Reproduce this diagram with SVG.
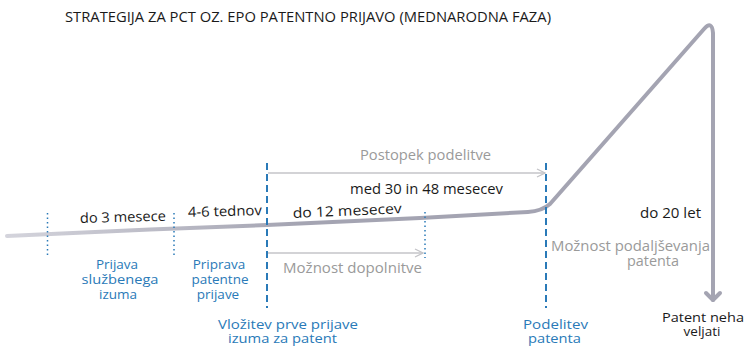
<svg xmlns="http://www.w3.org/2000/svg" width="747" height="347" viewBox="0 0 747 347">
<defs>
<style>
text{font-family:"Open Sans","Noto Sans","Liberation Sans",sans-serif;font-size:14px}
.k{fill:#1a1a1a}
.b{fill:#2a7ab8;text-anchor:middle;font-size:13.5px}
.g{fill:#9a9a9a}
.blk{fill:#1a1a1a;text-anchor:middle;font-size:13.5px}
.dash{stroke:#2a7ab8;stroke-width:2;stroke-dasharray:7 4;fill:none}
.dot{stroke:#2a7ab8;stroke-width:1.5;stroke-dasharray:1.5 3;fill:none}
.ga{stroke:#c4c4c8;stroke-width:1.3;fill:none}
</style>
<linearGradient id="lg" x1="7" y1="0" x2="300" y2="0" gradientUnits="userSpaceOnUse">
<stop offset="0" stop-color="#d4d4dc"/>
<stop offset="1" stop-color="#a4a4b2"/>
</linearGradient>
<marker id="oa" viewBox="0 0 10 10" refX="9" refY="5" markerWidth="10" markerHeight="10" markerUnits="userSpaceOnUse" orient="auto">
<path d="M1,1 L9,5 L1,9" fill="none" stroke="#c4c4c8" stroke-width="1.3"/>
</marker>
</defs>
<text x="65" y="22" class="k" textLength="486" lengthAdjust="spacingAndGlyphs">STRATEGIJA ZA PCT OZ. EPO PATENTNO PRIJAVO (MEDNARODNA FAZA)</text>
<g id="connectors">
<path id="timeline" d="M7,236 L150,229.5 L267,225 L420,218 L528,212 Q542,211 550,204 L704,29 Q712,20 713,33 L713,300" fill="none" stroke="url(#lg)" stroke-width="4" stroke-linejoin="round" stroke-linecap="round"/>
<path d="M706,293 L713,300 L720,293" fill="none" stroke="#a4a4b2" stroke-width="4" stroke-linecap="round" stroke-linejoin="round"/>
<line class="ga" x1="268" y1="173" x2="545" y2="173" marker-end="url(#oa)"/>
<line class="ga" x1="268" y1="253" x2="423" y2="253" marker-end="url(#oa)"/>
<line class="dash" x1="267" y1="163" x2="267" y2="308"/>
<line class="dash" x1="546" y1="163" x2="546" y2="308"/>
<line class="dot" x1="47.5" y1="213" x2="47.5" y2="258"/>
<line class="dot" x1="174" y1="213" x2="174" y2="258"/>
<line class="dot" x1="425" y1="212" x2="425" y2="258"/>
</g>
<g id="label-do3"><text class="k" x="80" y="223" transform="rotate(-1.5 80 223)" textLength="86" lengthAdjust="spacingAndGlyphs">do 3 mesece</text></g>
<g id="label-46"><text class="k" x="188" y="217" transform="rotate(-1.5 188 217)" textLength="74" lengthAdjust="spacingAndGlyphs">4-6 tednov</text></g>
<g id="label-do12"><text class="k" x="293" y="218" transform="rotate(-2.5 293 218)" textLength="109" lengthAdjust="spacingAndGlyphs">do 12 mesecev</text></g>
<g id="label-postopek"><text class="g" x="360" y="160" textLength="131" lengthAdjust="spacingAndGlyphs">Postopek podelitve</text></g>
<g id="label-med"><text class="k" x="350" y="194" textLength="153" lengthAdjust="spacingAndGlyphs">med 30 in 48 mesecev</text></g>
<g id="label-dopolnitve"><text class="g" x="283" y="273" textLength="139" lengthAdjust="spacingAndGlyphs">Možnost dopolnitve</text></g>
<g id="label-do20"><text class="k" x="640" y="218" textLength="61" lengthAdjust="spacingAndGlyphs">do 20 let</text></g>
<g id="label-podaljsevanja">
<text class="g" x="551" y="251" textLength="159" lengthAdjust="spacingAndGlyphs">Možnost podaljševanja</text>
<text class="g" x="627" y="266" textLength="52" lengthAdjust="spacingAndGlyphs">patenta</text>
</g>
<g id="node-prijava">
<text class="b" x="117" y="269">Prijava</text>
<text class="b" x="120" y="284" textLength="77" lengthAdjust="spacingAndGlyphs">službenega</text>
<text class="b" x="118" y="299">izuma</text>
</g>
<g id="node-priprava">
<text class="b" x="219" y="269">Priprava</text>
<text class="b" x="220" y="284">patentne</text>
<text class="b" x="218" y="299">prijave</text>
</g>
<g id="node-vlozitev">
<text class="b" x="288" y="329" textLength="140" lengthAdjust="spacingAndGlyphs">Vložitev prve prijave</text>
<text class="b" x="282.5" y="343" textLength="109" lengthAdjust="spacingAndGlyphs">izuma za patent</text>
</g>
<g id="node-podelitev">
<text class="b" x="555.5" y="329" textLength="65" lengthAdjust="spacingAndGlyphs">Podelitev</text>
<text class="b" x="554.5" y="343" textLength="53" lengthAdjust="spacingAndGlyphs">patenta</text>
</g>
<g id="node-neha">
<text class="blk" x="703" y="322" textLength="82" lengthAdjust="spacingAndGlyphs">Patent neha</text>
<text class="blk" x="702" y="336">veljati</text>
</g>
</svg>
